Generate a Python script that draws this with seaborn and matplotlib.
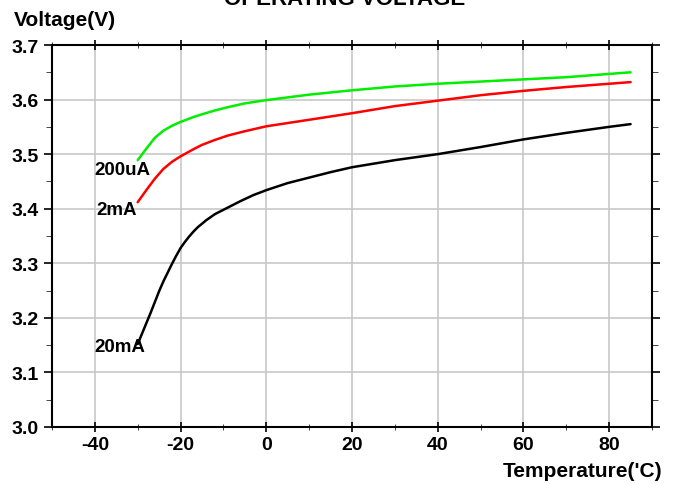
import numpy as np
import pandas as pd
import seaborn as sns
import matplotlib.pyplot as plt
from matplotlib.ticker import MultipleLocator

# curve data
temp_200ua = [-30, -28, -26, -24, -22, -20, -17, -15, -12, -9, -5, 0, 5, 10, 20, 30, 40, 50,
              60, 70, 80, 85]
volt_200ua = [3.489, 3.510, 3.530, 3.543, 3.552, 3.559, 3.568, 3.573, 3.580, 3.586, 3.593,
              3.599, 3.604, 3.609, 3.617, 3.624, 3.629, 3.633, 3.637, 3.641, 3.647, 3.650]

temp_2ma = [-30, -28, -26, -24, -22, -20, -17, -15, -12, -9, -5, 0, 10, 20, 30, 40, 50, 60,
            70, 80, 85]
volt_2ma = [3.412, 3.434, 3.455, 3.473, 3.486, 3.496, 3.509, 3.517, 3.526, 3.534, 3.542,
            3.551, 3.563, 3.575, 3.588, 3.598, 3.608, 3.616, 3.623, 3.629, 3.632]

temp_20ma = [-30, -29, -28, -27, -26, -25, -24, -23, -22, -21, -20, -19, -18, -17, -16, -14,
             -12, -9, -6, -3, 0, 5, 10, 15, 20, 30, 40, 50, 60, 70, 80, 85]
volt_20ma = [3.152, 3.171, 3.190, 3.209, 3.229, 3.249, 3.267, 3.283, 3.299, 3.314, 3.328,
             3.339, 3.349, 3.358, 3.366, 3.379, 3.390, 3.402, 3.414, 3.425, 3.434, 3.447,
             3.457, 3.467, 3.476, 3.489, 3.500, 3.513, 3.527, 3.539, 3.550, 3.555]

series_names = ["200uA", "2mA", "20mA"]
series_colors = ["#00ee00", "#ff0000", "#000000"]
label_pos = [(-40.2, 3.471), (-39.7, 3.398), (-40.2, 3.148)]

df = pd.concat([
    pd.DataFrame({"T": temp_200ua, "V": volt_200ua, "I": "200uA"}),
    pd.DataFrame({"T": temp_2ma, "V": volt_2ma, "I": "2mA"}),
    pd.DataFrame({"T": temp_20ma, "V": volt_20ma, "I": "20mA"}),
])

sns.set_style("ticks")
plt.rcParams['font.family'] = ['Liberation Sans', 'DejaVu Sans']
plt.rcParams['font.weight'] = 'bold'
plt.rcParams['text.color'] = 'black'
plt.rcParams['axes.unicode_minus'] = False

fig = plt.figure(figsize=(6.78, 4.85), dpi=100)
ax = fig.add_axes([52/678, 1 - 428/485, 600/678, 382/485])

sns.lineplot(data=df, x="T", y="V", hue="I", hue_order=series_names,
             palette=series_colors, linewidth=1.8, legend=False, ax=ax, sort=False,
             estimator=None)

ax.set_xlim(-50, 90)
ax.set_ylim(3.0, 3.7)
ax.xaxis.set_major_locator(MultipleLocator(20))
ax.xaxis.set_minor_locator(MultipleLocator(10))
ax.yaxis.set_major_locator(MultipleLocator(0.1))
ax.yaxis.set_minor_locator(MultipleLocator(0.05))
ax.yaxis.set_major_formatter(plt.FormatStrFormatter('%.1f'))
ax.grid(True, which='major', color='#c8c8c8', linewidth=1.2)
ax.set_axisbelow(True)

for s in ax.spines.values():
    s.set_linewidth(1.5)
    s.set_color('black')

ax.tick_params(axis='both', which='major', labelsize=14, width=1.2, colors='black',
               labelcolor='black')
ax.tick_params(axis='x', which='both', direction='inout', length=7, pad=3, top=True)
ax.tick_params(axis='x', which='minor', length=5)
ax.tick_params(axis='y', which='both', direction='out', right=True)
ax.tick_params(axis='y', which='major', length=6)
ax.tick_params(axis='y', which='minor', length=4)
ax.set_xlabel("")
ax.set_ylabel("")
for lbl in ax.get_xticklabels() + ax.get_yticklabels():
    lbl.set_fontweight('bold')

for name, (tx, ty) in zip(series_names, label_pos):
    ax.text(tx, ty, name, fontsize=13.5, fontweight='bold', ha='left', va='center',
            color='black')

fig.text(14/678, 1 - 20/485, "Voltage(V)", fontsize=15, fontweight='bold',
         ha='left', va='center')
fig.text(662/678, 1 - 472/485, "Temperature('C)", fontsize=15, fontweight='bold',
         ha='right', va='center')
fig.text(345/678, 1 - 5/485, "OPERATING VOLTAGE", fontsize=16, fontweight='bold',
         ha='center', va='baseline')

fig.savefig("out.png", dpi=100)
